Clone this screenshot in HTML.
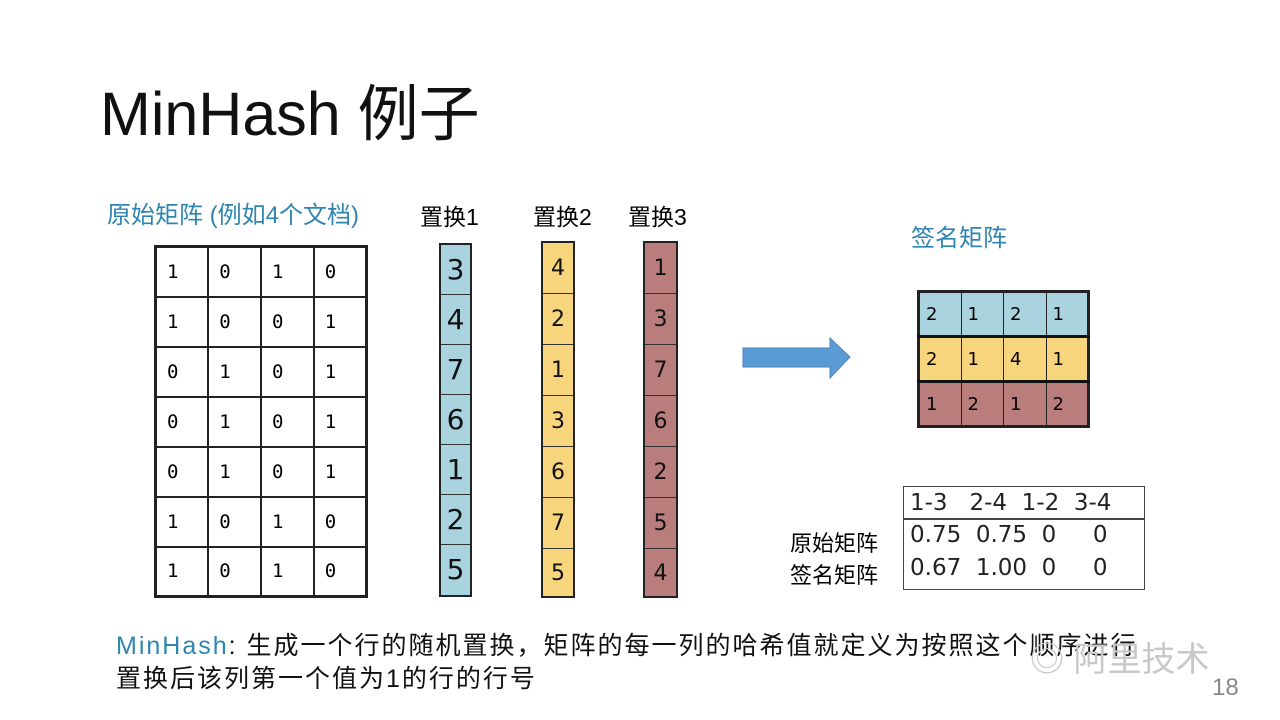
<!DOCTYPE html>
<html><head><meta charset="utf-8"><style>
body{margin:0;width:1280px;height:720px;background:#fff;position:relative;overflow:hidden;font-family:"Liberation Sans","Noto Sans CJK SC",sans-serif}
.a{position:absolute;white-space:nowrap}
table{border-collapse:collapse;position:absolute;table-layout:fixed}
.m td{border:2px solid #222;height:50px;font:19px "DejaVu Sans Mono",monospace;padding:0 0 0 10px;text-align:left;box-sizing:border-box}
.p{position:absolute;border:2.5px solid #222;box-sizing:border-box}
.p div{border-bottom:1.5px solid #333;box-sizing:border-box;text-align:center;font:28px "DejaVu Sans",sans-serif;color:#111}
.p div:last-child{border-bottom:none}
.s td{border:1.5px solid #222;height:45px;font:18px "DejaVu Sans",sans-serif;padding:0 0 0 6px;box-sizing:border-box}
</style></head><body>
<div class="a" style="left:100px;top:64px;font-size:61px;color:#111">MinHash 例子</div>
<div class="a" style="left:107px;top:195px;font-size:24px;color:#2e86b0">原始矩阵 (例如4个文档)</div>
<div class="a" style="left:420px;top:198px;font-size:23px">置换1</div>
<div class="a" style="left:533px;top:198px;font-size:23px">置换2</div>
<div class="a" style="left:628px;top:198px;font-size:23px">置换3</div>
<div class="a" style="left:911px;top:218px;font-size:24px;color:#2e86b0">签名矩阵</div>
<table class="m" style="left:154px;top:245px;width:214px;border:3px solid #222">
<tr><td>1</td><td>0</td><td>1</td><td>0</td></tr>
<tr><td>1</td><td>0</td><td>0</td><td>1</td></tr>
<tr><td>0</td><td>1</td><td>0</td><td>1</td></tr>
<tr><td>0</td><td>1</td><td>0</td><td>1</td></tr>
<tr><td>0</td><td>1</td><td>0</td><td>1</td></tr>
<tr><td>1</td><td>0</td><td>1</td><td>0</td></tr>
<tr><td>1</td><td>0</td><td>1</td><td>0</td></tr>
</table>
<div class="p" style="left:439px;top:243px;width:33px;height:354px;background:#a9d4df">
<div style="height:50px;line-height:50px">3</div><div style="height:50px;line-height:50px">4</div><div style="height:50px;line-height:50px">7</div><div style="height:50px;line-height:50px">6</div><div style="height:50px;line-height:50px">1</div><div style="height:50px;line-height:50px">2</div><div style="height:49px;line-height:49px">5</div></div>
<div class="p" style="left:541px;top:241px;width:34px;height:357px;background:#f6d57c">
<div style="height:51px;line-height:51px;font-size:22px">4</div><div style="height:51px;line-height:51px;font-size:22px">2</div><div style="height:51px;line-height:51px;font-size:22px">1</div><div style="height:51px;line-height:51px;font-size:22px">3</div><div style="height:51px;line-height:51px;font-size:22px">6</div><div style="height:51px;line-height:51px;font-size:22px">7</div><div style="height:49px;line-height:49px;font-size:22px">5</div></div>
<div class="p" style="left:643px;top:241px;width:35px;height:357px;background:#b97e7c">
<div style="height:51px;line-height:51px;font-size:22px">1</div><div style="height:51px;line-height:51px;font-size:22px">3</div><div style="height:51px;line-height:51px;font-size:22px">7</div><div style="height:51px;line-height:51px;font-size:22px">6</div><div style="height:51px;line-height:51px;font-size:22px">2</div><div style="height:51px;line-height:51px;font-size:22px">5</div><div style="height:49px;line-height:49px;font-size:22px">4</div></div>
<svg class="a" style="left:740px;top:335px" width="115" height="46"><polygon points="3,13 90,13 90,3 110,22 90,43 90,32 3,32" fill="#5b9bd5" stroke="#4a84bd"/></svg>
<table class="s" style="left:917px;top:290px;width:173px;border:3px solid #222">
<tr style="background:#a9d4df;border-bottom:3px solid #111"><td>2</td><td>1</td><td>2</td><td>1</td></tr>
<tr style="background:#f6d57c;border-bottom:3px solid #111"><td>2</td><td>1</td><td>4</td><td>1</td></tr>
<tr style="background:#b97e7c"><td>1</td><td>2</td><td>1</td><td>2</td></tr>
</table>
<div class="a" style="left:903px;top:486px;width:240px;height:102px;border:1.5px solid #444"></div>
<div class="a" style="left:903px;top:518px;width:242px;height:1.5px;background:#444"></div>
<div class="a" style="left:910px;top:490px;font-size:23px;color:#222;font-family:'DejaVu Sans',sans-serif">1-3&nbsp;&nbsp;&nbsp;2-4&nbsp;&nbsp;1-2&nbsp;&nbsp;3-4</div>
<div class="a" style="left:910px;top:522px;font-size:23px;color:#222;font-family:'DejaVu Sans',sans-serif">0.75&nbsp;&nbsp;0.75&nbsp;&nbsp;0&nbsp;&nbsp;&nbsp;&nbsp;&nbsp;0</div>
<div class="a" style="left:910px;top:555px;font-size:23px;color:#222;font-family:'DejaVu Sans',sans-serif">0.67&nbsp;&nbsp;1.00&nbsp;&nbsp;0&nbsp;&nbsp;&nbsp;&nbsp;&nbsp;0</div>
<div class="a" style="left:790px;top:526px;font-size:22px">原始矩阵</div>
<div class="a" style="left:790px;top:558px;font-size:22px">签名矩阵</div>
<div class="a" style="left:116px;top:626px;font-size:25px;letter-spacing:2px;color:#111"><span style="color:#2e86b0">MinHash</span>: 生成一个行的随机置换，矩阵的每一列的哈希值就定义为按照这个顺序进行</div>
<div class="a" style="left:116px;top:659px;font-size:25px;letter-spacing:2px;color:#111">置换后该列第一个值为1的行的行号</div>
<div class="a" style="left:1030px;top:632px;font-size:34px;color:#c8c8c8">◎ 阿里技术</div>
<div class="a" style="left:1212px;top:674px;font-size:24px;color:#888">18</div>
</body></html>
